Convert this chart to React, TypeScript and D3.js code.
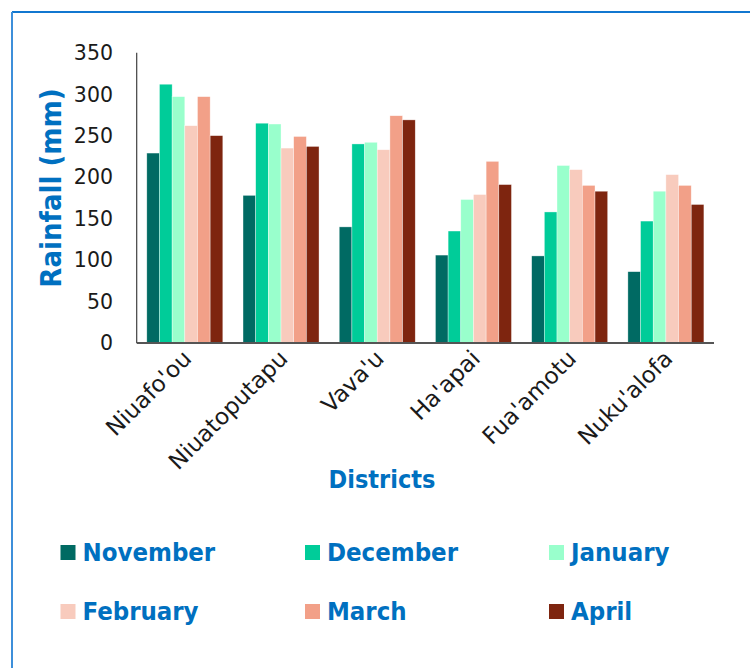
import React from "react";
import * as d3 from "d3";

const districts = ["Niuafo'ou", "Niuatoputapu", "Vava'u", "Ha'apai", "Fua'amotu", "Nuku'alofa"];
const months = ["November", "December", "January", "February", "March", "April"];
const november = [229, 178, 140, 106, 105, 86];
const december = [312, 265, 240, 135, 158, 147];
const january = [297, 264, 242, 173, 214, 183];
const february = [262, 235, 233, 179, 209, 203];
const march = [297, 249, 274, 219, 190, 190];
const april = [250, 237, 269, 191, 183, 167];
const yTicks = [0, 50, 100, 150, 200, 250, 300, 350];
const colors = ["#006A63", "#00CC99", "#99FFCC", "#F8CBBD", "#F2A088", "#7E250F"];

const series = [november, december, january, february, march, april];

const W = 750;
const H = 668;
const BLUE = "#0070C0";
const boldFont = "'DejaVu Sans Condensed', 'DejaVu Sans', sans-serif";
const regFont = "'DejaVu Sans', sans-serif";

export default function App() {
  const x0 = d3.scaleBand<string>().domain(districts).range([136.7, 714]).paddingInner(0.21).paddingOuter(0.105);
  const x1 = d3.scaleBand<string>().domain(months).range([0, x0.bandwidth()]).padding(0);
  const y = d3.scaleLinear().domain([0, 350]).range([343, 52.7]);

  const legendCols = [60.5, 305, 549];
  const legendRows = [545, 604];

  return (
    <svg width={W} height={H} style={{ position: "absolute", left: 0, top: 0, background: "#fff" }}>
      <rect x={0} y={0} width={W} height={H} fill="#fff" />
      {/* frame */}
      <line x1={12} y1={12} x2={W} y2={12} stroke="#1177D0" strokeWidth={2} />
      <line x1={12} y1={12} x2={12} y2={H} stroke="#3D8FDA" strokeWidth={2} />

      {/* y tick labels */}
      {yTicks.map((t) => (
        <text key={t} x={113} y={y(t)} dy="0.36em" textAnchor="end" fontFamily={regFont} fontSize={20.5} fill="#1a1a1a">
          {t}
        </text>
      ))}

      {/* bars */}
      {districts.map((d, i) => (
        <g key={d} transform={`translate(${x0(d)},0)`}>
          {months.map((m, j) => (
            <rect
              key={m}
              x={x1(m)}
              y={y(series[j][i])}
              width={x1.bandwidth()}
              height={y(0) - y(series[j][i])}
              fill={colors[j]}
              stroke="#ffffff"
              strokeOpacity={0.6}
              strokeWidth={0.6}
            />
          ))}
        </g>
      ))}

      {/* axes */}
      <line x1={136.7} y1={y(350)} x2={136.7} y2={y(0)} stroke="#404040" strokeWidth={1.2} />
      <line x1={136.7} y1={y(0)} x2={714} y2={y(0)} stroke="#555" strokeWidth={2} />

      {/* x labels */}
      {districts.map((d) => {
        const cx = (x0(d) as number) + x0.bandwidth() / 2 + 8;
        const cy = 360;
        return (
          <text
            key={d}
            transform={`translate(${cx},${cy}) rotate(-45)`}
            textAnchor="end"
            fontFamily={regFont}
            fontSize={23}
            fill="#1a1a1a"
          >
            {d}
          </text>
        );
      })}

      {/* axis titles */}
      <text
        transform={`translate(61,188) rotate(-90)`}
        textAnchor="middle"
        fontFamily={boldFont}
        fontWeight="bold"
        fontSize={29}
        fill={BLUE}
      >
        Rainfall (mm)
      </text>
      <text x={382} y={488} textAnchor="middle" fontFamily={boldFont} fontWeight="bold" fontSize={25} fill={BLUE}>
        Districts
      </text>

      {/* legend */}
      {months.map((m, j) => {
        const lx = legendCols[j % 3];
        const ly = legendRows[Math.floor(j / 3)];
        return (
          <g key={m}>
            <rect x={lx} y={ly} width={15} height={15} fill={colors[j]} />
            <text x={lx + 22} y={ly + 16} fontFamily={boldFont} fontWeight="bold" fontSize={25.5} fill={BLUE}>
              {m}
            </text>
          </g>
        );
      })}
    </svg>
  );
}
